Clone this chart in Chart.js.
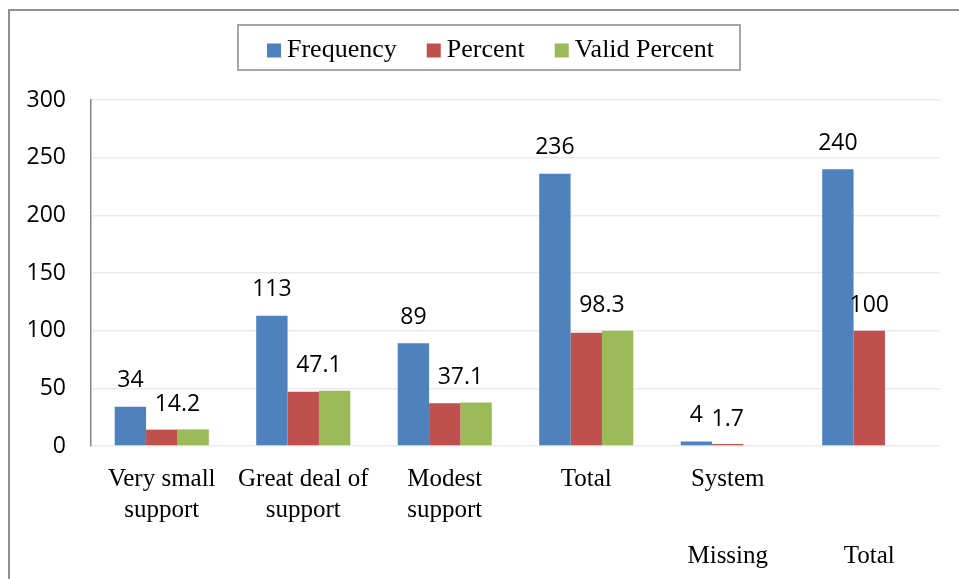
<!DOCTYPE html>
<html>
<head>
<meta charset="utf-8">
<script src="https://cdn.jsdelivr.net/npm/chart.js@4.4.1/dist/chart.umd.min.js"></script>
<style>
  html, body { margin: 0; padding: 0; background: #fff; overflow: hidden; }
  #frame {
    position: absolute; left: 8px; top: 9px; width: 1000px; height: 1000px;
    border-left: 2px solid #8f8f8f; border-top: 2px solid #8f8f8f;
  }
  #wrap { position: absolute; left: 0; top: 0; width: 959px; height: 579px; }
</style>
</head>
<body>
<div id="frame"></div>
<div id="wrap"><canvas id="chart"></canvas></div>
<script>
// categories on the first label row, then the group row below it
const categories = [['Very small', 'support'], ['Great deal of', 'support'], ['Modest', 'support'], 'Total', 'System', ''];
const groupLabels = ['', '', '', '', 'Missing', 'Total'];

const frequency = [34, 113, 89, 236, 4, 240];
const percent = [14.2, 47.1, 37.1, 98.3, 1.7, 100];
const validPercent = [14.4, 47.9, 37.7, 100, null, null];

const yTicks = [0, 50, 100, 150, 200, 250, 300];

const COLORS = { freq: '#4F81BD', pct: '#C0504D', valid: '#9BBB59' };
const LABEL_FONT = '23px "Open Sans", sans-serif';
const SERIF = '"Liberation Serif", "Times New Roman", serif';

// legend in a bordered box above the plot
const boxLegend = {
  id: 'boxLegend',
  afterDraw(chart) {
    const ctx = chart.ctx;
    const box = { left: 238, top: 25, right: 740, bottom: 70 };
    ctx.save();
    ctx.strokeStyle = '#a6a6a6';
    ctx.lineWidth = 2;
    ctx.strokeRect(box.left, box.top, box.right - box.left, box.bottom - box.top);
    ctx.font = '26px ' + SERIF;
    ctx.textBaseline = 'middle';
    ctx.fillStyle = '#000';
    const midY = (box.top + box.bottom) / 2 + 2;
    let x = box.left + 29;
    chart.data.datasets.forEach((ds) => {
      ctx.fillStyle = ds.backgroundColor;
      ctx.fillRect(x, midY - 6, 14, 14);
      x += 20;
      ctx.fillStyle = '#000';
      ctx.fillText(ds.label, x, midY + 1);
      x += ctx.measureText(ds.label).width + 30;
    });
    ctx.restore();
  },
};

// value labels: frequency over its bar, percent over the percent/valid pair
const valueLabels = {
  id: 'valueLabels',
  afterDatasetsDraw(chart) {
    const ctx = chart.ctx;
    const freqBars = chart.getDatasetMeta(0).data;
    const pctBars = chart.getDatasetMeta(1).data;
    const validBars = chart.getDatasetMeta(2).data;
    ctx.save();
    ctx.font = LABEL_FONT;
    ctx.fillStyle = '#000';
    ctx.textAlign = 'center';
    ctx.textBaseline = 'middle';
    frequency.forEach((v, i) => {
      const b = freqBars[i];
      ctx.fillText(String(v), b.x, b.y - 26);
    });
    percent.forEach((v, i) => {
      const b = pctBars[i];
      let x = b.x;
      let top = b.y;
      if (validPercent[i] != null) {
        const vb = validBars[i];
        x = (b.x + vb.x) / 2;
        top = Math.min(b.y, vb.y);
      }
      ctx.fillText(String(v), x, top - 25);
    });
    ctx.restore();
  },
};

new Chart(document.getElementById('chart'), {
  type: 'bar',
  data: {
    labels: categories,
    datasets: [
      { label: 'Frequency', data: frequency, backgroundColor: COLORS.freq },
      { label: 'Percent', data: percent, backgroundColor: COLORS.pct },
      { label: 'Valid Percent', data: validPercent, backgroundColor: COLORS.valid },
    ],
  },
  options: {
    responsive: true,
    maintainAspectRatio: false,
    animation: false,
    layout: { padding: { top: 100, right: 19, bottom: 0, left: 0 } },
    datasets: { bar: { categoryPercentage: 0.665, barPercentage: 1 } },
    plugins: { legend: { display: false }, tooltip: { enabled: false } },
    scales: {
      x: {
        grid: { display: false },
        border: { display: false },
        ticks: {
          color: '#000',
          font: { family: SERIF, size: 25, lineHeight: 31 / 25 },
          padding: 10,
          autoSkip: false,
          maxRotation: 0,
          minRotation: 0,
        },
        afterFit(scale) { scale.height = 80; },
      },
      x2: {
        type: 'category',
        position: 'bottom',
        labels: groupLabels,
        offset: true,
        grid: { display: false },
        border: { display: false },
        ticks: {
          color: '#000',
          font: { family: SERIF, size: 25, lineHeight: 31 / 25 },
          padding: 7,
          autoSkip: false,
          maxRotation: 0,
          minRotation: 0,
        },
        afterFit(scale) { scale.height = 53; },
      },
      y: {
        min: 0,
        max: 300,
        afterBuildTicks(scale) { scale.ticks = yTicks.map((v) => ({ value: v })); },
        grid: { color: '#ebebeb', lineWidth: 1.5, drawTicks: false },
        border: { display: true, color: '#868686', width: 1.5 },
        ticks: { color: '#000', font: { family: '"Open Sans", sans-serif', size: 23 }, padding: 25 },
        afterFit(scale) { scale.width = 91; },
      },
    },
  },
  plugins: [boxLegend, valueLabels],
});
</script>
</body>
</html>
